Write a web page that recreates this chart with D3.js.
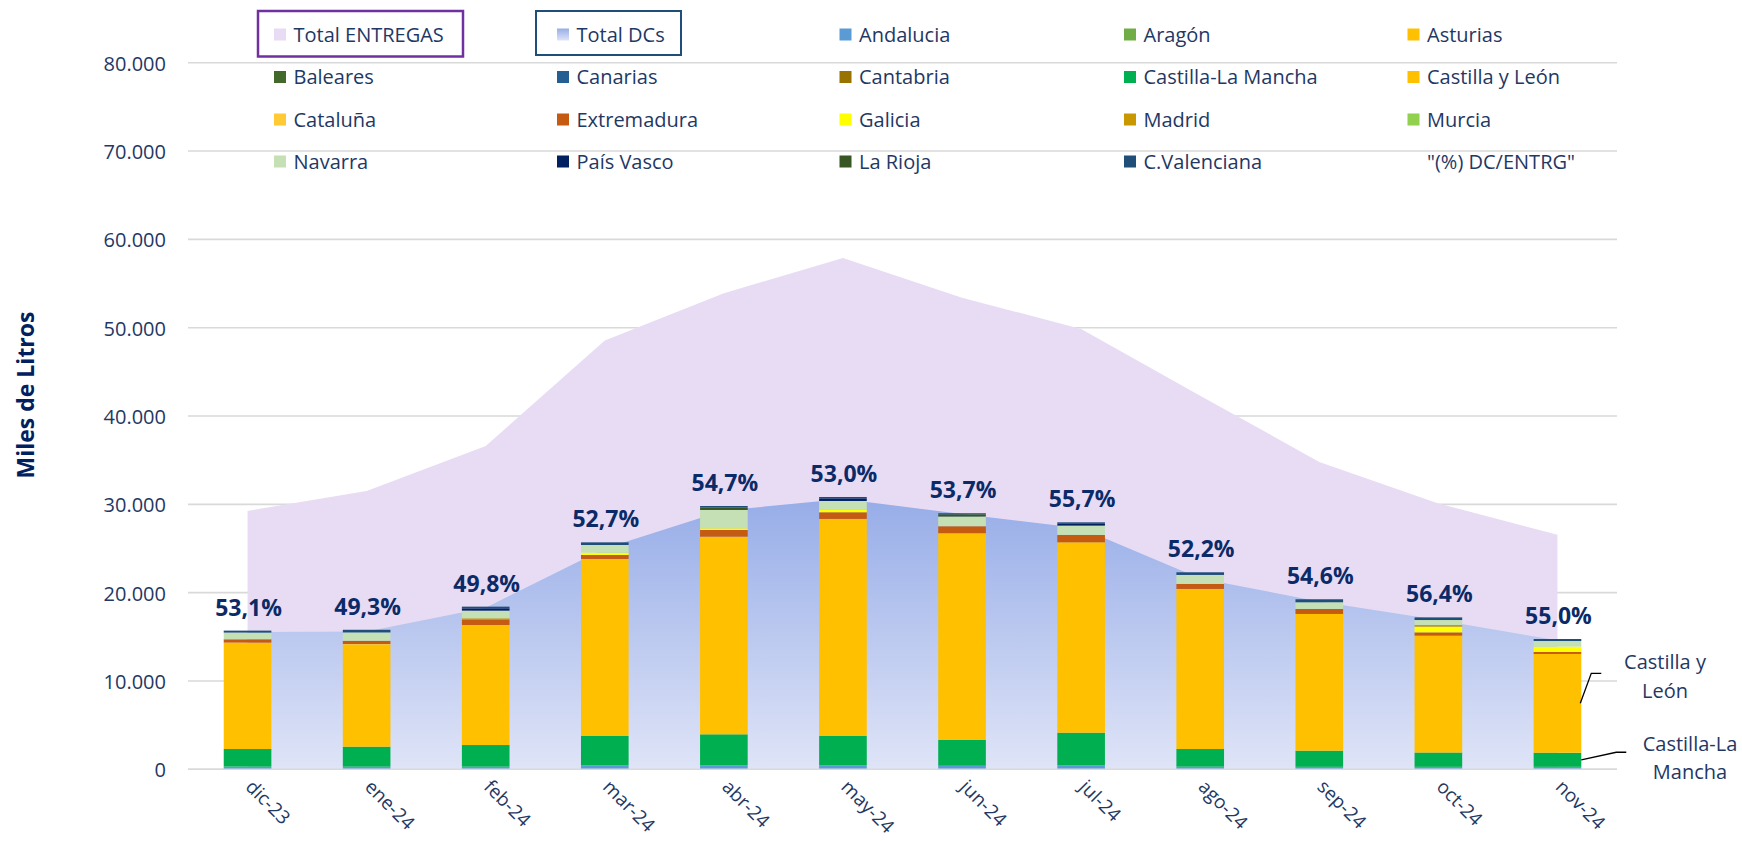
<!DOCTYPE html>
<html>
<head>
<meta charset="utf-8">
<script src="https://cdn.jsdelivr.net/npm/d3@7"></script>
<style>
  html, body { margin: 0; padding: 0; background: #ffffff; }
  svg { display: block; font-family: "Open Sans", "Noto Sans", sans-serif; }
</style>
</head>
<body>
<svg id="chart" width="1742" height="841"></svg>
<script>
// ---------------- DATA ----------------
const months = ["dic-23","ene-24","feb-24","mar-24","abr-24","may-24","jun-24","jul-24","ago-24","sep-24","oct-24","nov-24"];
const totalEntregas = [29250, 31500, 36600, 48550, 53900, 57900, 53400, 49850, 42300, 34800, 30100, 26550];
const totalDCs      = [15550, 15600, 18300, 25000, 29300, 30600, 28900, 27300, 21600, 19000, 16900, 14600];
const pctDCEntr     = [53.1, 49.3, 49.8, 52.7, 54.7, 53.0, 53.7, 55.7, 52.2, 54.6, 56.4, 55.0];

const andalucia    = [300, 300, 300, 450, 450, 450, 400, 450, 300, 280, 280, 280];
const aragon       = [0, 0, 0, 0, 0, 0, 0, 0, 0, 0, 0, 0];
const asturias     = [0, 0, 0, 0, 0, 0, 0, 0, 0, 0, 0, 0];
const baleares     = [0, 0, 0, 0, 0, 0, 0, 0, 0, 0, 0, 0];
const canarias     = [0, 0, 0, 0, 0, 0, 0, 0, 0, 0, 0, 0];
const cantabria    = [0, 0, 0, 0, 0, 0, 0, 0, 0, 0, 0, 0];
const castillaLM   = [2000, 2260, 2450, 3320, 3510, 3320, 2920, 3695, 2000, 1830, 1620, 1600];
const castillaYL   = [12040, 11520, 13590, 20045, 22380, 24575, 23410, 21560, 18120, 15480, 13230, 11180];
const cataluna     = [0, 100, 0, 0, 0, 0, 0, 0, 0, 0, 0, 0];
const extremadura  = [385, 375, 565, 450, 755, 755, 790, 830, 565, 565, 375, 225];
const galicia      = [0, 0, 0, 260, 190, 260, 0, 0, 0, 0, 640, 600];
const madrid       = [0, 0, 190, 0, 0, 0, 0, 0, 0, 0, 190, 0];
const murcia       = [0, 0, 0, 0, 0, 0, 0, 0, 0, 0, 0, 0];
const navarra      = [750, 940, 870, 870, 2075, 1020, 1095, 1055, 1020, 755, 565, 640];
const paisVasco    = [0, 0, 260, 0, 0, 300, 0, 260, 0, 0, 0, 0];
const laRioja      = [0, 0, 0, 0, 260, 0, 260, 0, 0, 0, 0, 0];
const cValenciana  = [226, 300, 190, 300, 190, 150, 113, 113, 300, 340, 300, 226];

const yTicks = [0, 10000, 20000, 30000, 40000, 50000, 60000, 70000, 80000];

const regionNames  = ["Andalucia","Aragón","Asturias","Baleares","Canarias","Cantabria","Castilla-La Mancha","Castilla y León","Cataluña","Extremadura","Galicia","Madrid","Murcia","Navarra","País Vasco","La Rioja","C.Valenciana"];
const regionValues = [andalucia, aragon, asturias, baleares, canarias, cantabria, castillaLM, castillaYL, cataluna, extremadura, galicia, madrid, murcia, navarra, paisVasco, laRioja, cValenciana];
const regionColors = ["#5B9BD5","#70AD47","#FFC000","#43682B","#255E91","#997300","#00B050","#FFC000","#FFCA33","#C55A11","#FFFF00","#C99800","#92D050","#C5E0B4","#002060","#375623","#1F4E79"];

// ---------------- SETUP ----------------
const svg = d3.select("#chart");
const loc = d3.formatLocale({decimal: ",", thousands: ".", grouping: [3], currency: ["", "€"]});
const fmtTick = loc.format(",.0f");
const fmtPct = loc.format(".1f");

const textColor = "#1F3864";
const labelColor = "#0B2A68";

const x = d3.scaleBand().domain(months).range([188, 1617]).paddingInner(0.6).paddingOuter(0.3);
const y = d3.scaleLinear().domain([0, 80000]).range([769.3, 62.7]);
const cx = m => x(m) + x.bandwidth() / 2;

// gradient defs
const defs = svg.append("defs");
const gBlue = defs.append("linearGradient").attr("id", "gradDC")
  .attr("gradientUnits", "userSpaceOnUse")
  .attr("x1", 0).attr("x2", 0).attr("y1", y(d3.max(totalDCs))).attr("y2", y(0));
gBlue.append("stop").attr("offset", "0%").attr("stop-color", "#97ADE8");
gBlue.append("stop").attr("offset", "100%").attr("stop-color", "#DFE4F7");
const gBlueLeg = defs.append("linearGradient").attr("id", "gradDCleg").attr("x1",0).attr("x2",0).attr("y1",0).attr("y2",1);
gBlueLeg.append("stop").attr("offset","0%").attr("stop-color","#97ADE8");
gBlueLeg.append("stop").attr("offset","100%").attr("stop-color","#DFE4F7");

// gridlines
svg.append("g").selectAll("line").data(yTicks).join("line")
  .attr("x1", 188).attr("x2", 1617)
  .attr("y1", d => y(d)).attr("y2", d => y(d))
  .attr("stroke", "#D9D9D9").attr("stroke-width", 1.6);

// y tick labels
svg.append("g").selectAll("text").data(yTicks).join("text")
  .attr("x", 166).attr("y", d => y(d) + 8)
  .attr("text-anchor", "end")
  .attr("font-size", 20).attr("fill", textColor)
  .text(d => fmtTick(d));

// y axis title
svg.append("text")
  .attr("transform", "translate(34,395) rotate(-90)")
  .attr("text-anchor", "middle")
  .attr("font-size", 23).attr("font-weight", 700).attr("fill", "#002060")
  .text("Miles de Litros");

// areas
const entregasData = months.map((m, i) => ({m, v: totalEntregas[i]}));
const dcData = months.map((m, i) => ({m, v: totalDCs[i]}));
const area = d3.area().x(d => cx(d.m)).y0(y(0)).y1(d => y(d.v));
svg.append("path").datum(entregasData).attr("d", area).attr("fill", "#E8DCF4");
svg.append("path").datum(dcData).attr("d", area).attr("fill", "url(#gradDC)");

// stacked bars
const rows = months.map((m, i) => {
  const r = {m};
  regionNames.forEach((n, k) => r[n] = regionValues[k][i]);
  return r;
});
const stack = d3.stack().keys(regionNames)(rows);
const barsG = svg.append("g");
stack.forEach((layer, k) => {
  barsG.append("g").attr("fill", regionColors[k])
    .selectAll("rect").data(layer.filter(d => d[1] - d[0] > 0)).join("rect")
    .attr("x", d => x(d.data.m))
    .attr("width", x.bandwidth())
    .attr("y", d => y(d[1]))
    .attr("height", d => y(d[0]) - y(d[1]));
});

// baseline over bars
svg.append("line").attr("x1", 188).attr("x2", 1617).attr("y1", y(0)).attr("y2", y(0))
  .attr("stroke", "#D9D9D9").attr("stroke-width", 1.6);

// percent labels
const tops = stack[stack.length - 1];
svg.append("g").selectAll("text").data(months).join("text")
  .attr("x", m => cx(m) + 1)
  .attr("y", (m, i) => y(tops[i][1]) - 15)
  .attr("text-anchor", "middle")
  .attr("font-size", 23).attr("font-weight", 700).attr("fill", labelColor)
  .text((m, i) => fmtPct(pctDCEntr[i]) + "%");

// x labels
svg.append("g").selectAll("text").data(months).join("text")
  .attr("transform", m => `translate(${cx(m) - 3},788) rotate(45)`)
  .attr("font-size", 19).attr("fill", textColor)
  .text(m => m);

// annotations for last bar
const last = months.length - 1;
const lastM = months[last];
const barRight = x(lastM) + x.bandwidth();
function segMid(name) {
  const k = regionNames.indexOf(name);
  const d = stack[k][last];
  return y((d[0] + d[1]) / 2);
}
const annG = svg.append("g");
const cylY = segMid("Castilla y León");
annG.append("polyline")
  .attr("points", `${barRight - 1},${cylY} ${barRight + 10},${cylY - 30} ${barRight + 20},${cylY - 30}`)
  .attr("fill", "none").attr("stroke", "#000").attr("stroke-width", 1.3);
annG.append("text").attr("x", 1665).attr("y", cylY - 34).attr("text-anchor", "middle")
  .attr("font-size", 20).attr("fill", textColor).text("Castilla y");
annG.append("text").attr("x", 1665).attr("y", cylY - 5).attr("text-anchor", "middle")
  .attr("font-size", 20).attr("fill", textColor).text("León");
const clmY = segMid("Castilla-La Mancha");
annG.append("polyline")
  .attr("points", `${barRight},${clmY} ${barRight + 35},${clmY - 7.5} ${barRight + 45},${clmY - 7.5}`)
  .attr("fill", "none").attr("stroke", "#000").attr("stroke-width", 1.3);
annG.append("text").attr("x", 1690).attr("y", clmY - 9).attr("text-anchor", "middle")
  .attr("font-size", 20).attr("fill", textColor).text("Castilla-La");
annG.append("text").attr("x", 1690).attr("y", clmY + 19).attr("text-anchor", "middle")
  .attr("font-size", 20).attr("fill", textColor).text("Mancha");

// ---------------- LEGEND ----------------
const legendItems = [
  {name: "Total ENTREGAS", fill: "#E8DCF4"},
  {name: "Total DCs", fill: "url(#gradDCleg)"},
  ...regionNames.map((n, k) => ({name: n, fill: regionColors[k]})),
  {name: "\"(%) DC/ENTRG\"", fill: null}
];
const legCols = [274, 557, 839.5, 1124, 1407.5];
const legRows = [34.5, 77, 119.5, 161.5];
const legG = svg.append("g");
legendItems.forEach((it, i) => {
  const c = i % 5, r = Math.floor(i / 5);
  const lx = legCols[c], ly = legRows[r];
  if (it.fill) {
    legG.append("rect").attr("x", lx).attr("y", ly - 6).attr("width", 12).attr("height", 12).attr("fill", it.fill);
  }
  legG.append("text").attr("x", lx + 19.5).attr("y", ly + 7)
    .attr("font-size", 20).attr("fill", textColor).text(it.name);
});
// highlight boxes
legG.append("rect").attr("x", 258).attr("y", 11).attr("width", 205).attr("height", 45.5)
  .attr("fill", "none").attr("stroke", "#7030A0").attr("stroke-width", 2.5);
legG.append("rect").attr("x", 536).attr("y", 11).attr("width", 145).attr("height", 44)
  .attr("fill", "none").attr("stroke", "#1F4E79").attr("stroke-width", 2);
</script>
</body>
</html>
